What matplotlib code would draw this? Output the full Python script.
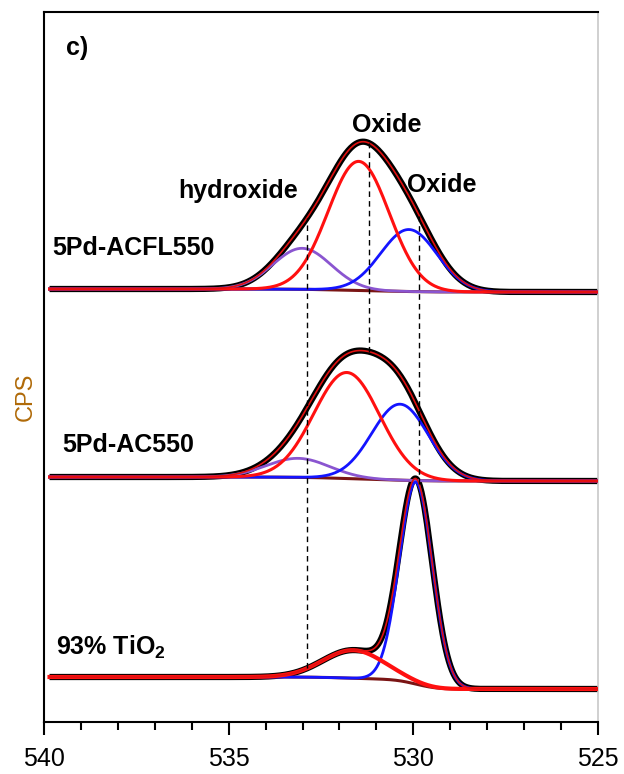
import matplotlib
matplotlib.use("Agg")
import matplotlib.pyplot as plt
import numpy as np

plt.rcParams['font.family'] = ['Liberation Sans', 'DejaVu Sans']
plt.rcParams['mathtext.fontset'] = 'custom'
plt.rcParams['mathtext.rm'] = 'Liberation Sans:bold'
plt.rcParams['mathtext.bf'] = 'Liberation Sans:bold'

# fitted O 1s components: (centre eV, FWHM eV, height)
samples = ["5Pd-ACFL550", "5Pd-AC550", "93% TiO$_2$"]
hydroxide = [(533.01, 1.85, 41), (533.12, 2.0, 19), None]
oxide_a = [(531.48, 1.95, 129), (531.80, 2.1, 106), (531.62, 1.95, 28)]
oxide_b = [(530.12, 1.8, 62), (530.36, 1.8, 76), (529.93, 1.05, 202)]
# background level at the low-BE side and the step of the Shirley background
bg_right = [430, 241, 33]
bg_step = [3, 4, 12]

# dashed guide lines: energy, upper spectrum, lower spectrum
guides = [(532.88, 0, 2), (531.20, 0, 1), (529.85, 0, 2)]

energy = np.linspace(525.0, 539.85, 700)


def peak(p):
    if p is None:
        return np.zeros_like(energy)
    c, fwhm, h = p
    s = fwhm / 2.3548
    return h * np.exp(-0.5 * ((energy - c) / s) ** 2)


fig = plt.figure(figsize=(6.24, 7.74), dpi=100)
ax = fig.add_axes([44 / 624, 52 / 774, 554 / 624, 710 / 774])

envelopes = []
for i in range(3):
    comps = [peak(hydroxide[i]), peak(oxide_a[i]), peak(oxide_b[i])]
    total = comps[0] + comps[1] + comps[2]
    cum = np.cumsum(total)
    bg = bg_right[i] + bg_step[i] * cum / cum[-1]
    env = bg + total
    envelopes.append(env)

    ax.plot(energy, env, color='black', lw=4.5, solid_capstyle='butt', zorder=2)
    ax.plot(energy, bg, color='#7a1414', lw=2.2, zorder=3)
    if hydroxide[i] is not None:
        ax.plot(energy, bg + comps[0], color='#8a55d0', lw=2, zorder=4)
    ax.plot(energy, bg + comps[2], color='#1414ff', lw=2, zorder=4)
    ax.plot(energy, bg + comps[1], color='#ff1010', lw=2.2 if i < 2 else 3, zorder=5)
    ax.plot(energy, env, color='#e01010', lw=1.2, zorder=6)

for e, top, low in guides:
    k = np.argmin(np.abs(energy - e))
    ax.plot([e, e], [envelopes[low][k], envelopes[top][k]], color='black',
            lw=1, dashes=(4, 3), zorder=7)

ax.set_xlim(540, 525)
ax.set_ylim(0, 710)
ax.set_xticks([540, 535, 530, 525])
ax.set_xticks(np.arange(525, 541, 1), minor=True)
ax.set_yticks([])
ax.tick_params(axis='x', which='major', length=9, width=1.5, labelsize=18, pad=9)
ax.tick_params(axis='x', which='minor', length=6, width=1.5)
for side in ['left', 'bottom', 'top']:
    ax.spines[side].set_linewidth(1.5)
ax.spines['right'].set_color('#c8c8c8')
ax.spines['right'].set_linewidth(1.2)

bold = dict(fontsize=18, fontweight='bold', va='baseline', ha='left')
ax.text(539.40, 667, "c)", **bold)
ax.text(539.78, 467, samples[0], **bold)
ax.text(539.51, 270, samples[1], **bold)
ax.text(539.68, 67, samples[2], **bold)
ax.text(536.37, 524, "hydroxide", **bold)
ax.text(531.66, 590, "Oxide", **bold)
ax.text(530.17, 530, "Oxide", **bold)

fig.text(26 / 624, 1 - 397 / 774, "CPS", rotation=90, ha='center', va='center',
         fontsize=17, color='#b06a08')

fig.savefig("out.png", dpi=100)
